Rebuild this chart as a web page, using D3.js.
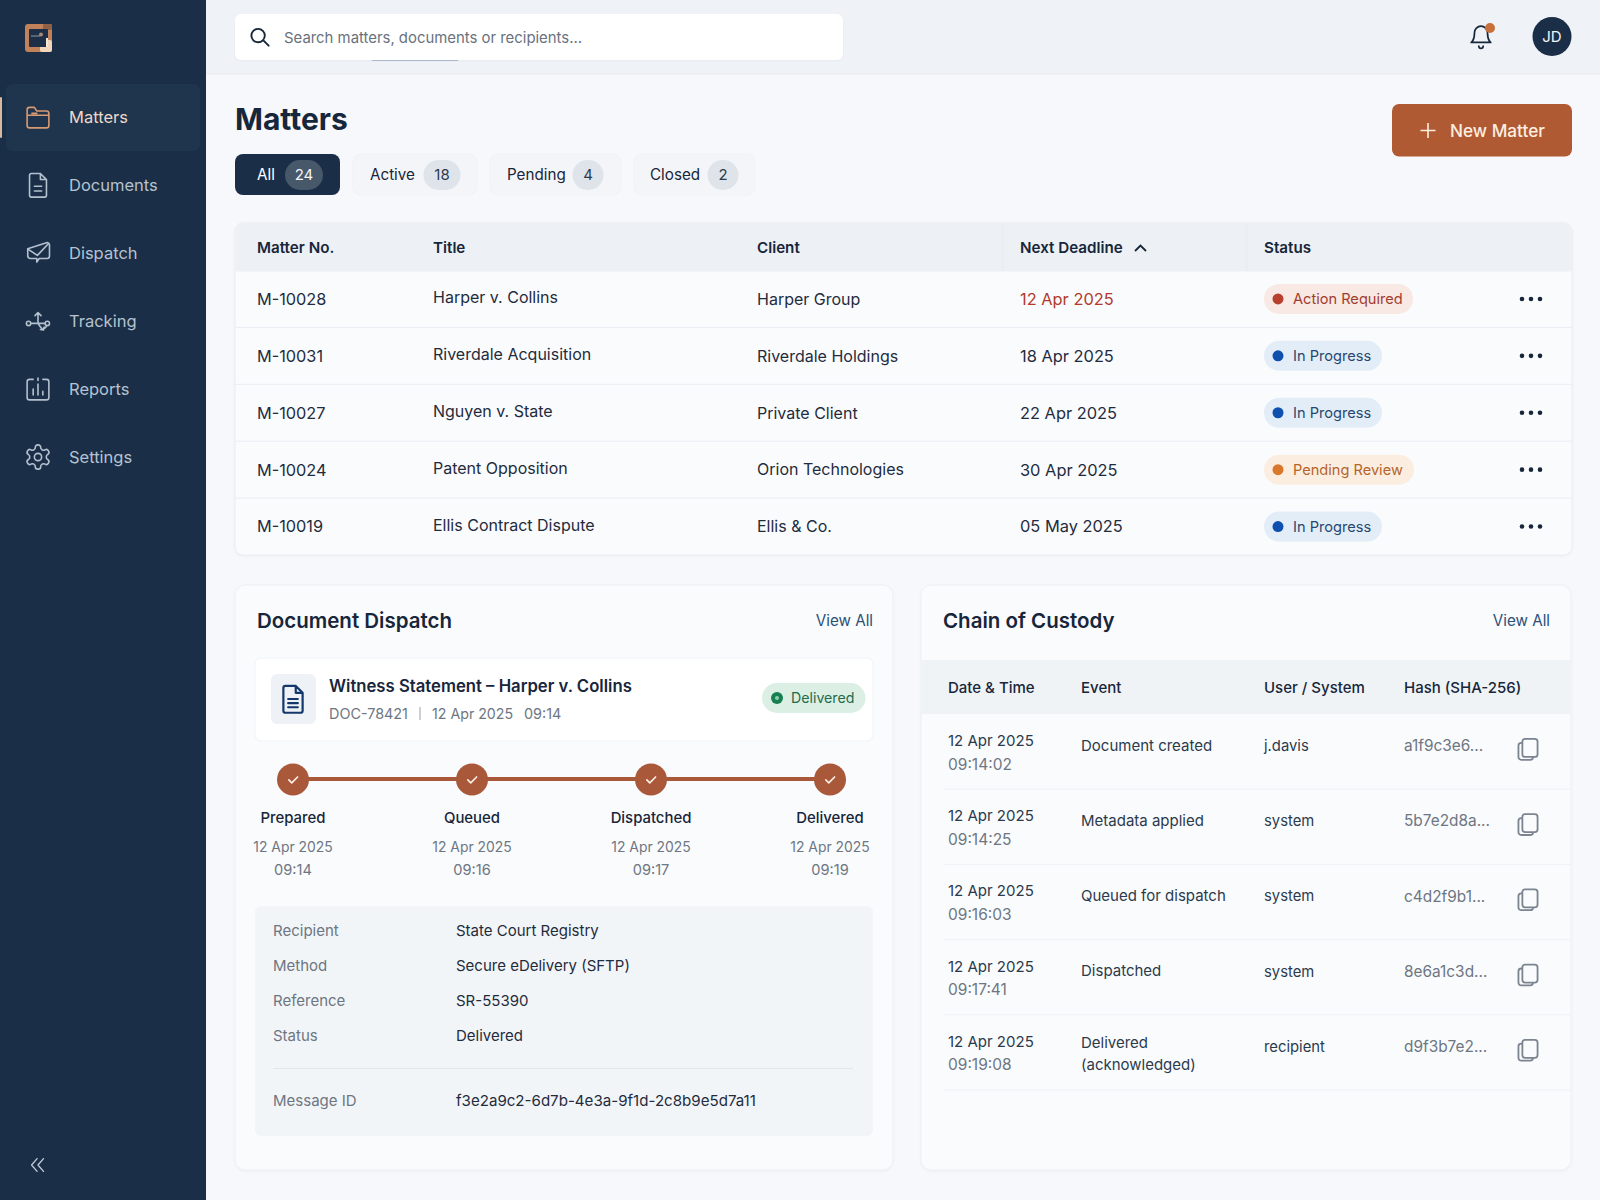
<!DOCTYPE html>
<html>
<head>
<meta charset="utf-8">
<title>Matters</title>
<script src="https://cdnjs.cloudflare.com/ajax/libs/d3/7.9.0/d3.min.js"></script>
<style>
  html, body { margin: 0; padding: 0; background: #f6f8fb; }
  svg { display: block; }
  text { font-family: Inter, "Noto Sans", sans-serif; }
</style>
</head>
<body>
<div id="main"></div>
<script>
// sidebar + tabs
var navLabels = ["Matters", "Documents", "Dispatch", "Tracking", "Reports", "Settings"];
var tabLabels = ["All", "Active", "Pending", "Closed"];
var tabCounts = [24, 18, 4, 2];

// matters table
var matterHeaders = ["Matter No.", "Title", "Client", "Next Deadline", "Status"];
var matterNos = ["M-10028", "M-10031", "M-10027", "M-10024", "M-10019"];
var matterTitles = ["Harper v. Collins", "Riverdale Acquisition", "Nguyen v. State", "Patent Opposition", "Ellis Contract Dispute"];
var matterClients = ["Harper Group", "Riverdale Holdings", "Private Client", "Orion Technologies", "Ellis & Co."];
var matterDeadlines = ["12 Apr 2025", "18 Apr 2025", "22 Apr 2025", "30 Apr 2025", "05 May 2025"];
var matterStatuses = ["Action Required", "In Progress", "In Progress", "Pending Review", "In Progress"];

// dispatch card
var stepNames = ["Prepared", "Queued", "Dispatched", "Delivered"];
var stepTimes = ["09:14", "09:16", "09:17", "09:19"];
var infoLabels = ["Recipient", "Method", "Reference", "Status"];
var infoValues = ["State Court Registry", "Secure eDelivery (SFTP)", "SR-55390", "Delivered"];

// custody table
var custodyHeaders = ["Date & Time", "Event", "User / System", "Hash (SHA-256)"];
var custodyTimes = ["09:14:02", "09:14:25", "09:16:03", "09:17:41", "09:19:08"];
var custodyEvents = [["Document created"], ["Metadata applied"], ["Queued for dispatch"], ["Dispatched"], ["Delivered", "(acknowledged)"]];
var custodyUsers = ["j.davis", "system", "system", "system", "recipient"];
var custodyHashes = ["a1f9c3e6...", "5b7e2d8a...", "c4d2f9b1...", "8e6a1c3d...", "d9f3b7e2..."];

var navy = "#1a2e47", ink = "#17263a", gray = "#6d7682", copper = "#a9583a";

var statusStyle = {
  "Action Required": { bg: "#f8e9e5", dot: "#b8402f", fg: "#a13c2e", w: 149 },
  "In Progress": { bg: "#e3edf8", dot: "#0f4fae", fg: "#27476f", w: 118 },
  "Pending Review": { bg: "#fbeee0", dot: "#d9772b", fg: "#b5642a", w: 150 }
};

var icons = {
  Matters: "M3 9V6a2 2 0 0 1 2-2h4l2 3h8a2 2 0 0 1 2 2v10a2 2 0 0 1-2 2H5a2 2 0 0 1-2-2z M3 10.5h18 M7 9h4",
  Documents: "M6.5 2.5H14l5 5v13a1.5 1.5 0 0 1-1.5 1.5h-11A1.5 1.5 0 0 1 5 20.5V4a1.5 1.5 0 0 1 1.5-1.5z M14 2.5v5h5 M9 13h6 M9 17h6",
  Dispatch: "M3.5 8.5 19 3.5a2 2 0 0 1 2.500 2v9a2 2 0 0 1-2 2H13l-2 3v-3H6a2.500 2.500 0 0 1-2.500-2.500z M4 9l7.500 5L20 5",
  Tracking: "M6 14h12 M12 14V5 M9.500 7.500 12 5l2.500 2.500 M6 14a1.800 1.800 0 1 1-3.600 0 1.800 1.800 0 0 1 3.600 0z M21.500 14a1.800 1.800 0 1 1-3.600 0 1.800 1.800 0 0 1 3.600 0z M12 14c1 2 2.500 3.500 4 5 2-1 3-2 3.500-3.500 M14 19l2.500.5.500-2.500",
  Reports: "M5 4h3M12 3v2M16 4h3a2 2 0 0 1 2 2v13a2 2 0 0 1-2 2H5a2 2 0 0 1-2-2V6a2 2 0 0 1 2-2 M8 17v-5 M12 17V8 M16 17v-3",
  Settings: "M12.22 2h-.44a2 2 0 0 0-2 2v.18a2 2 0 0 1-1 1.73l-.43.25a2 2 0 0 1-2 0l-.15-.08a2 2 0 0 0-2.73.73l-.22.38a2 2 0 0 0 .73 2.73l.15.1a2 2 0 0 1 1 1.72v.51a2 2 0 0 1-1 1.74l-.15.09a2 2 0 0 0-.73 2.73l.22.38a2 2 0 0 0 2.73.73l.15-.08a2 2 0 0 1 2 0l.43.25a2 2 0 0 1 1 1.73V20a2 2 0 0 0 2 2h.44a2 2 0 0 0 2-2v-.18a2 2 0 0 1 1-1.73l.43-.25a2 2 0 0 1 2 0l.15.08a2 2 0 0 0 2.73-.73l.22-.39a2 2 0 0 0-.73-2.73l-.15-.08a2 2 0 0 1-1-1.74v-.5a2 2 0 0 1 1-1.74l.15-.09a2 2 0 0 0 .73-2.73l-.22-.38a2 2 0 0 0-2.73-.73l-.15.08a2 2 0 0 1-2 0l-.43-.25a2 2 0 0 1-1-1.73V4a2 2 0 0 0-2-2z M15 12a3 3 0 1 1-6 0 3 3 0 0 1 6 0z",
  search: "M17 10.5a7 7 0 1 1-14 0 7 7 0 0 1 14 0z M15.5 15.5 21 21",
  bell: "M6 8a6 6 0 0 1 12 0c0 7 3 9 3 9H3s3-2 3-9 M10 20.5a2 2 0 0 0 4 0",
  doc: "M6.5 2.5H14l5 5v13a1.5 1.5 0 0 1-1.5 1.5h-11A1.5 1.5 0 0 1 5 20.5V4a1.5 1.5 0 0 1 1.5-1.5z M14 2.5v5h5 M8.5 12h7 M8.5 15h7 M8.5 18h7",
  copy: "M9 3h9a2.5 2.5 0 0 1 2.5 2.5v11a2.5 2.5 0 0 1-2.5 2.5H9.5A2.5 2.5 0 0 1 7 16.5v-11A2.5 2.5 0 0 1 9 3z M7 6.5H6A2.5 2.5 0 0 0 3.5 9v10A2.5 2.5 0 0 0 6 21.5h8a2.5 2.5 0 0 0 2.5-2.5",
  check: "M7 12.5l3.5 3.5L17.5 9",
  collapse: "M11 5 5 12l6 7 M18 5l-6 7 6 7"
};

var width = 1600, height = 1200;
var svg = d3.select("#main").append("svg")
  .attr("width", width)
  .attr("height", height)
  .attr("viewBox", "0 0 " + width + " " + height);

var defs = svg.append("defs");
var soft = defs.append("filter").attr("id", "soft").attr("x", "-5%").attr("y", "-10%").attr("width", "110%").attr("height", "125%");
soft.append("feDropShadow").attr("dx", 0).attr("dy", 1).attr("stdDeviation", 1.2).attr("flood-color", "#8a97a8").attr("flood-opacity", 0.1);

function box(g, x, y, w, h, r, fill, stroke) {
  return g.append("rect").attr("x", x).attr("y", y).attr("width", w).attr("height", h)
    .attr("rx", r).attr("fill", fill).attr("stroke", stroke || "none");
}
function label(g, x, y, txt, size, color, weight, anchor) {
  return g.append("text").attr("x", x).attr("y", y).attr("dy", "0.36em")
    .attr("font-size", size).attr("fill", color).attr("font-weight", weight || 400)
    .attr("text-anchor", anchor || "start").text(txt);
}
function icon(g, name, cx, cy, size, color, sw) {
  var k = size / 24;
  return g.append("path").attr("d", icons[name])
    .attr("transform", "translate(" + (cx - size / 2) + "," + (cy - size / 2) + ") scale(" + k + ")")
    .attr("fill", "none").attr("stroke", color).attr("stroke-width", sw / k)
    .attr("stroke-linecap", "round").attr("stroke-linejoin", "round");
}

// backgrounds
box(svg, 0, 0, width, height, 0, "#f6f8fb");
box(svg, 206, 0, width - 206, 74, 0, "#eff2f6");
svg.append("line").attr("x1", 206).attr("x2", width).attr("y1", 74).attr("y2", 74).attr("stroke", "#e6eaef");

// sidebar
var side = svg.append("g");
box(side, 0, 0, 206, height, 0, navy);
// logo: copper frame, cream corner, dark centre
box(side, 25, 24, 27, 28, 3, "#c18259");
box(side, 43, 24, 9, 6, 1, "#8f6248");
box(side, 40, 40, 12, 12, 2, "#f0d6bd");
box(side, 29, 29, 19, 18, 1, "#1c2f47");
box(side, 40, 40, 5, 7, 0, "#1c2f47");
box(side, 46, 38, 2, 9, 0, "#f6e6d6");
side.append("path").attr("d", "M31 36h9").attr("stroke", "#8d99a6").attr("stroke-width", 1);
side.append("circle").attr("cx", 41).attr("cy", 34.5).attr("r", 2).attr("fill", "#a98a74");

var navY = d3.scalePoint().domain(navLabels).range([117, 457]);
box(side, 6, 84, 194, 67, 6, "#1f344d");
box(side, 0, 97, 2, 41, 1, "#d8b9a0");
navLabels.forEach(function (d, i) {
  var on = i === 0;
  icon(side, d, 38, navY(d), 29, on ? "#d79a72" : "#b4c0cd", 1.6);
  label(side, 69, navY(d), d, 16.5, on ? "#ecd9c8" : "#b6c2cf");
});
icon(side, "collapse", 38, 1165, 22, "#c4ced9", 1.3);

// top bar
var topBar = svg.append("g");
box(topBar, 235, 14, 608, 46, 6, "#ffffff").attr("filter", "url(#soft)");
topBar.append("line").attr("x1", 372).attr("x2", 458).attr("y1", 60.5).attr("y2", 60.5).attr("stroke", "#a9b8cb").attr("stroke-width", 1);
icon(topBar, "search", 260, 37, 23, ink, 1.9);
label(topBar, 284, 37.5, "Search matters, documents or recipients...", 14.9, "#69727e");
icon(topBar, "bell", 1481, 37, 26, ink, 1.7);
topBar.append("circle").attr("cx", 1490).attr("cy", 28).attr("r", 5).attr("fill", "#c8703a");
topBar.append("circle").attr("cx", 1552).attr("cy", 36.5).attr("r", 19.5).attr("fill", navy);
label(topBar, 1552, 37, "JD", 15, "#f2f5f8", 400, "middle");

// page title, tabs, button
label(svg, 235, 119.5, "Matters", 30, ink, 700);
box(svg, 1392, 104, 180, 52.5, 7, "#b05a33");
svg.append("path").attr("d", "M1420.5 130.5h15M1428 123v15").attr("stroke", "#fdeee0").attr("stroke-width", 1.6).attr("fill", "none");
label(svg, 1450, 131, "New Matter", 17.2, "#fdeee0", 500);

var tabX = [235, 353, 490, 634];
var tabW = [105, 124, 131, 121];
var tabTextX = [257, 370, 507, 650];
var tabPillX = [304, 442, 588, 723];
var tabPillW = [38, 37, 31, 31];
tabLabels.forEach(function (d, i) {
  var on = i === 0;
  box(svg, tabX[i], 154, tabW[i], 41, 8, on ? navy : "#f3f5f8", on ? "none" : "#f0f2f6");
  label(svg, tabTextX[i], 175, d, 15.2, on ? "#ffffff" : ink, 400);
  box(svg, tabPillX[i] - tabPillW[i] / 2, 160, tabPillW[i], 30, 15, on ? "#47586b" : "#dfe4ea");
  label(svg, tabPillX[i], 175, tabCounts[i], 15, on ? "#f2f5f8" : "#2b3a4c", 400, "middle");
});

// matters table
var table = svg.append("g");
box(table, 235, 223, 1337, 332, 8, "#fafbfd", "#e9edf2").attr("filter", "url(#soft)");
table.append("path").attr("d", "M235.5 271.5V231a8 8 0 0 1 8-8H1564a8 8 0 0 1 8 8v40.5z").attr("fill", "#edf0f4");

var matterCols = d3.scaleOrdinal().domain(matterHeaders).range([257, 433, 757, 1020, 1264]);
matterHeaders.forEach(function (d) {
  label(table, matterCols(d), 247.5, d, 15.2, ink, 600);
});
table.append("path").attr("d", "M1135 251l5.5-5.5 5.5 5.5").attr("fill", "none").attr("stroke", ink).attr("stroke-width", 1.8);
[1003, 1247].forEach(function (x) {
  table.append("line").attr("x1", x).attr("x2", x).attr("y1", 223).attr("y2", 271).attr("stroke", "#e7ebf0");
});

var rowY = d3.scaleBand().domain(matterNos).range([270.5, 555]);
matterNos.forEach(function (d, i) {
  var cy = rowY(d) + rowY.bandwidth() / 2;
  var st = statusStyle[matterStatuses[i]];
  label(table, matterCols("Matter No."), cy, d, 16.3, "#1f2c3d");
  label(table, matterCols("Title"), cy - 1.5, matterTitles[i], 16, "#1f2c3d");
  label(table, matterCols("Client"), cy, matterClients[i], 16, "#1f2c3d");
  label(table, matterCols("Next Deadline"), cy, matterDeadlines[i], 16.4, i === 0 ? "#b23a2a" : "#1f2c3d");
  box(table, 1264, cy - 15, st.w, 30, 15, st.bg);
  table.append("circle").attr("cx", 1278).attr("cy", cy).attr("r", 5.5).attr("fill", st.dot);
  label(table, 1293, cy, matterStatuses[i], 14.6, st.fg);
  [-9, 0, 9].forEach(function (dx) {
    table.append("circle").attr("cx", 1531 + dx).attr("cy", cy).attr("r", 2.3).attr("fill", ink);
  });
  if (i < matterNos.length - 1) {
    table.append("line").attr("x1", 235).attr("x2", 1572).attr("y1", rowY(d) + rowY.bandwidth()).attr("y2", rowY(d) + rowY.bandwidth()).attr("stroke", "#e9edf2");
  }
});

// document dispatch card
var disp = svg.append("g");
box(disp, 235, 585, 658, 585, 10, "#fafbfd", "#edf0f4").attr("filter", "url(#soft)");
label(disp, 257, 621, "Document Dispatch", 20.5, ink, 600);
label(disp, 873, 621, "View All", 15.2, "#2a5078", 400, "end");

box(disp, 255, 658, 618, 83, 6, "#ffffff", "#f0f3f6");
box(disp, 271, 674, 45, 50, 6, "#eef1f6");
icon(disp, "doc", 293, 699, 33, "#14386b", 2.2);
label(disp, 329, 686, "Witness Statement – Harper v. Collins", 16.7, ink, 600);
label(disp, 329, 713.5, "DOC-78421", 14.4, gray);
disp.append("line").attr("x1", 420).attr("x2", 420).attr("y1", 707).attr("y2", 720).attr("stroke", "#9aa2ad");
label(disp, 432, 713.5, "12 Apr 2025", 14.2, gray);
label(disp, 524, 713.5, "09:14", 14.4, gray);
box(disp, 762, 683, 103.5, 30, 15, "#dcefe5");
disp.append("circle").attr("cx", 777).attr("cy", 698).attr("r", 6).attr("fill", "#178050");
disp.append("circle").attr("cx", 777).attr("cy", 698).attr("r", 2).attr("fill", "#8fcfb0");
label(disp, 791, 698, "Delivered", 14.2, "#1f6b4a");

var stepX = d3.scalePoint().domain(stepNames).range([293, 830]);
disp.append("line").attr("x1", stepX(stepNames[0])).attr("x2", stepX(stepNames[3])).attr("y1", 779).attr("y2", 779)
  .attr("stroke", copper).attr("stroke-width", 4);
stepNames.forEach(function (d, i) {
  var x = stepX(d);
  disp.append("circle").attr("cx", x).attr("cy", 779.5).attr("r", 16).attr("fill", copper);
  icon(disp, "check", x, 779.5, 20, "#fbeee4", 1.7);
  label(disp, x, 818, d, 14.9, ink, 500, "middle");
  label(disp, x, 847, "12 Apr 2025", 13.9, gray, 400, "middle");
  label(disp, x, 869.5, stepTimes[i], 14.6, gray, 400, "middle");
});

box(disp, 255, 906, 618, 230, 6, "#f2f5f8");
var infoY = d3.scalePoint().domain(infoLabels).range([931, 1036]);
infoLabels.forEach(function (d, i) {
  label(disp, 273, infoY(d), d, 15, gray);
  label(disp, 456, infoY(d), infoValues[i], 15, "#1f2c3d");
});
disp.append("line").attr("x1", 273).attr("x2", 853).attr("y1", 1068.5).attr("y2", 1068.5).attr("stroke", "#e2e6eb");
label(disp, 273, 1101, "Message ID", 15, gray);
label(disp, 456, 1101, "f3e2a9c2-6d7b-4e3a-9f1d-2c8b9e5d7a11", 15.1, "#1f2c3d");

// chain of custody card
var cust = svg.append("g");
box(cust, 921, 585, 650, 585, 10, "#fafbfd", "#edf0f4").attr("filter", "url(#soft)");
label(cust, 943, 621, "Chain of Custody", 20.5, ink, 600);
label(cust, 1550, 621, "View All", 15.2, "#2a5078", 400, "end");
box(cust, 921.5, 660, 649, 54, 0, "#f0f3f6");

var custCols = d3.scaleOrdinal().domain(custodyHeaders).range([948, 1081, 1264, 1404]);
custodyHeaders.forEach(function (d) {
  label(cust, custCols(d), 687.5, d, 15, ink, 500);
});

var custY = d3.scaleBand().domain(custodyTimes).range([714, 1090]);
custodyTimes.forEach(function (d, i) {
  var cy = custY(d) + custY.bandwidth() / 2;
  label(cust, custCols("Date & Time"), cy - 11, "12 Apr 2025", 15, "#2b3a4c");
  label(cust, custCols("Date & Time"), cy + 12.5, d, 15.5, gray);
  var ev = custodyEvents[i];
  if (ev.length > 1) {
    label(cust, custCols("Event"), cy - 10, ev[0], 15, "#2b3a4c");
    label(cust, custCols("Event"), cy + 12, ev[1], 15, "#2b3a4c");
  } else {
    label(cust, custCols("Event"), cy - 6.5, ev[0], 15, "#2b3a4c");
  }
  label(cust, custCols("User / System"), cy - 6, custodyUsers[i], 14.8, "#2b3a4c");
  label(cust, custCols("Hash (SHA-256)"), cy - 6, custodyHashes[i], 15.4, gray);
  icon(cust, "copy", 1528, cy - 2.5, 27, "#7b8490", 1.8);
  cust.append("line").attr("x1", 943).attr("x2", 1571).attr("y1", custY(d) + custY.bandwidth()).attr("y2", custY(d) + custY.bandwidth()).attr("stroke", "#eef1f5");
});
</script>
</body>
</html>
